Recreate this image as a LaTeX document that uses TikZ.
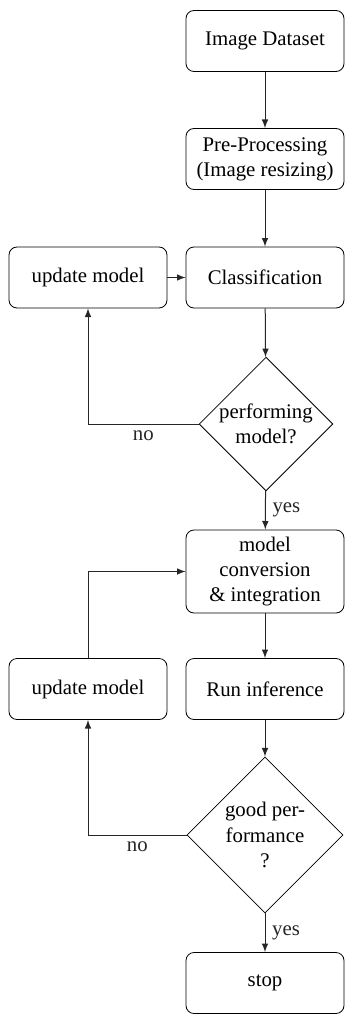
\documentclass[tikz,border=0pt]{standalone}
\usepackage{fontspec}
\setmainfont{Liberation Serif}
\usepackage{tikz}
\usetikzlibrary{arrows, shapes.geometric, calc}

\begin{document}
\begin{tikzpicture}[x=0.5pt, y=-0.5pt,
        every node/.style={font=\fontsize{10.4}{12.6}\selectfont},
        block/.style={draw, rounded corners=4pt, minimum width=79pt, minimum height=30.5pt, align=center, inner sep=2pt},
        decision/.style={draw, diamond, align=center, inner sep=0pt},
        line/.style={draw, -latex, line width=0.5pt, black!85}]
        \useasboundingbox (0,0) rectangle (347,1016);

        \node[block] (data) at (265,41) {Image Dataset};
        \node[block] (prep) at (265,159) {Pre-Processing\\(Image resizing)};
        \node[block] (cls) at (265,277.5) {Classification};
        \node[block] (upda) at (88,277.5) {update model};
        \node[decision, minimum width=66pt, minimum height=66pt] (perf) at (266,424) {performing\\model?};
        \node[block, minimum height=41.5pt] (conv) at (265,571.5) {model\\conversion\\\& integration};
        \node[block] (updb) at (88,689) {update model};
        \node[block] (infer) at (265,689) {Run inference};
        \node[decision, minimum width=78pt, minimum height=78pt] (good) at (265,835) {good per-\\formance\\?};
        \node[block] (stop) at (265,983) {stop};

        \draw[line] (data) -- (prep);
        \draw[line] (prep) -- (cls);
        \draw[line] (upda) -- (cls);
        \draw[line] (cls) -- (perf);
        \draw[line] (perf.west) -| node[pos=0.25, below]{no} (upda.south);
        \draw[line] (perf) -- node[right]{yes} (conv);
        \draw[line] (updb.north) |- (conv.west);
        \draw[line] (conv) -- (infer);
        \draw[line] (infer) -- (good);
        \draw[line] (good.west) -| node[pos=0.25, below]{no} (updb.south);
        \draw[line] (good) -- node[right]{yes} (stop);
\end{tikzpicture}
\end{document}
